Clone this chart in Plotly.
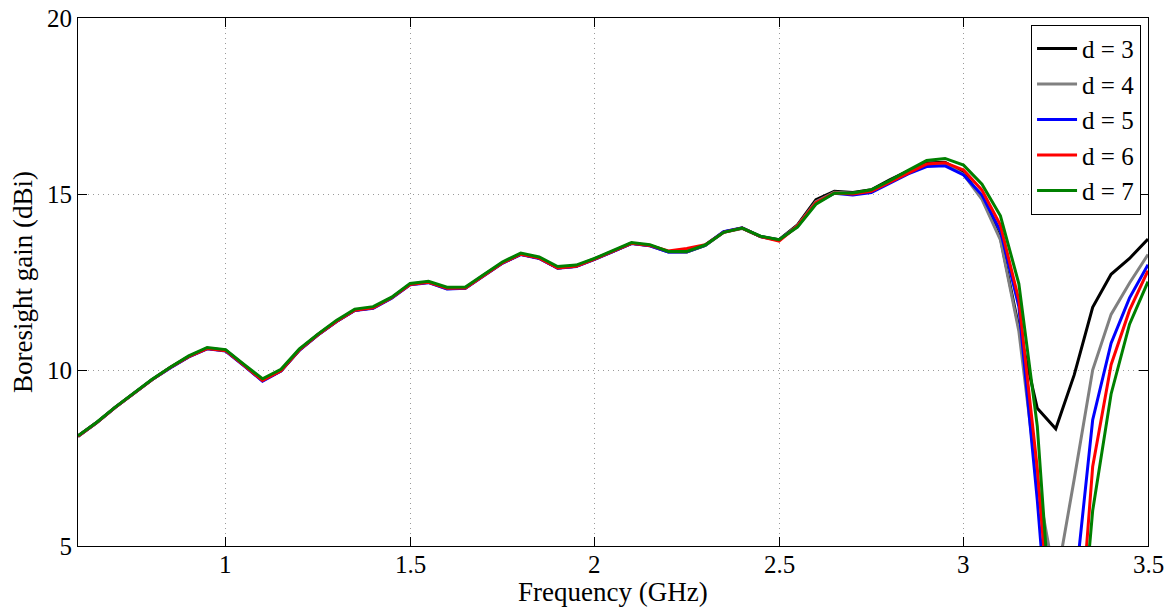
import plotly.graph_objects as go

# Frequency grid (GHz)
freq = [round(0.60 + 0.05 * i, 2) for i in range(59)]

# Boresight gain (dBi) for each spacing d
gain_d3 = [8.12, 8.50, 8.93, 9.33, 9.72, 10.07, 10.38, 10.62, 10.56, 10.14,
           9.70, 9.98, 10.57, 11.00, 11.38, 11.70, 11.77, 12.05, 12.44, 12.50,
           12.32, 12.33, 12.70, 13.04, 13.29, 13.18, 12.90, 12.95, 13.15, 13.37,
           13.60, 13.54, 13.36, 13.35, 13.54, 13.92, 14.03, 13.79, 13.70,
           14.12, 14.84, 15.08, 15.04, 15.12, 15.40, 15.66, 15.88, 15.90, 15.60,
           14.90, 13.75, 11.20, 8.91, 8.33, 9.86, 11.78, 12.72, 13.17, 13.72]

gain_d4 = [8.12, 8.50, 8.93, 9.33, 9.72, 10.07, 10.38, 10.61, 10.55, 10.13,
           9.70, 9.98, 10.57, 11.00, 11.38, 11.70, 11.77, 12.05, 12.43, 12.49,
           12.31, 12.33, 12.69, 13.04, 13.29, 13.18, 12.90, 12.95, 13.14, 13.37,
           13.60, 13.53, 13.35, 13.35, 13.54, 13.91, 14.02, 13.79, 13.69,
           14.10, 14.78, 15.05, 15.02, 15.08, 15.34, 15.62, 15.84, 15.86, 15.56,
           14.85, 13.70, 11.10, 6.80, 3.90, 6.90, 10.00, 11.58, 12.47, 13.28]

gain_d5 = [8.12, 8.50, 8.93, 9.33, 9.72, 10.06, 10.37, 10.60, 10.54, 10.12,
           9.68, 9.97, 10.56, 10.99, 11.37, 11.69, 11.75, 12.04, 12.42, 12.48,
           12.30, 12.32, 12.68, 13.03, 13.28, 13.17, 12.89, 12.94, 13.14, 13.36,
           13.59, 13.53, 13.35, 13.36, 13.55, 13.93, 14.04, 13.79, 13.69,
           14.08, 14.74, 15.02, 14.97, 15.04, 15.30, 15.57, 15.78, 15.80, 15.54,
           14.97, 13.95, 11.80, 6.30, -0.20, 3.60, 8.58, 10.76, 12.05, 12.99]

gain_d6 = [8.12, 8.50, 8.93, 9.33, 9.72, 10.07, 10.38, 10.61, 10.55, 10.13,
           9.70, 9.98, 10.57, 11.00, 11.38, 11.70, 11.77, 12.05, 12.43, 12.49,
           12.32, 12.33, 12.69, 13.04, 13.29, 13.18, 12.90, 12.95, 13.15, 13.37,
           13.60, 13.54, 13.38, 13.45, 13.56, 13.91, 14.03, 13.79, 13.66,
           14.09, 14.75, 15.03, 15.00, 15.08, 15.33, 15.60, 15.85, 15.89, 15.68,
           15.11, 14.12, 11.99, 7.20, 0.80, 0.40, 7.25, 10.15, 11.70, 12.82]

gain_d7 = [8.13, 8.51, 8.94, 9.34, 9.73, 10.08, 10.40, 10.64, 10.58, 10.16,
           9.75, 10.02, 10.60, 11.02, 11.41, 11.73, 11.80, 12.07, 12.46, 12.52,
           12.35, 12.36, 12.72, 13.07, 13.32, 13.21, 12.94, 12.98, 13.17, 13.39,
           13.62, 13.56, 13.37, 13.37, 13.55, 13.91, 14.03, 13.80, 13.70,
           14.06, 14.71, 15.02, 15.03, 15.12, 15.38, 15.67, 15.95, 16.01, 15.82,
           15.28, 14.38, 12.45, 8.40, 1.00, 0.00, 6.00, 9.32, 11.30, 12.51]

series_names = ["d = 3", "d = 4", "d = 5", "d = 6", "d = 7"]
series_values = [gain_d3, gain_d4, gain_d5, gain_d6, gain_d7]
series_colors = ["#000000", "#808080", "#0000ff", "#ff0000", "#008000"]

x_ticks = [1, 1.5, 2, 2.5, 3, 3.5]
x_tick_labels = ["1", "1.5", "2", "2.5", "3", "3.5"]
y_ticks = [5, 10, 15, 20]
y_tick_labels = ["5", "10", "15", "20"]

SERIF = "Liberation Serif, Times New Roman, serif"

fig = go.Figure()
for name, vals, color in zip(series_names, series_values, series_colors):
    fig.add_trace(go.Scatter(
        x=freq, y=vals, mode="lines", name=name,
        line=dict(color=color, width=3),
    ))

axis_common = dict(
    showline=True, linecolor="black", linewidth=1, mirror="ticks",
    ticks="inside", ticklen=9, tickcolor="black", tickwidth=1,
    showgrid=True, gridcolor="#9a9a9a", griddash="1px,4px", gridwidth=1,
    zeroline=False, automargin=False,
    tickfont=dict(family=SERIF, size=25, color="black"),
)

# x tick labels placed just under the axis, on the data scale of the x axis
x_label_annotations = [
    dict(text=lbl, x=val, xref="x", y=0, yref="paper",
         xanchor="center", yanchor="top", yshift=-3, showarrow=False,
         font=dict(family=SERIF, size=25, color="black"))
    for val, lbl in zip(x_ticks, x_tick_labels)
]

x_title = dict(
    text="Frequency (GHz)", xref="paper", yref="paper",
    x=0.5, y=-0.0871, xanchor="center", yanchor="middle",
    showarrow=False, font=dict(family=SERIF, size=27, color="black"),
)

fig.update_layout(
    width=1175, height=608,
    margin=dict(l=78, r=27, t=18, b=62),
    paper_bgcolor="white", plot_bgcolor="white",
    xaxis=dict(range=[0.6, 3.5], tickvals=x_ticks, showticklabels=False,
               **axis_common),
    yaxis=dict(range=[5, 20], tickvals=y_ticks, ticktext=y_tick_labels,
               title=dict(text="Boresight gain (dBi)", standoff=6,
                          font=dict(family=SERIF, size=27, color="black")),
               **axis_common),
    legend=dict(x=0.9935, y=0.987, xanchor="right", yanchor="top",
                bgcolor="white", bordercolor="black", borderwidth=1,
                font=dict(family=SERIF, size=25, color="black"),
                itemwidth=40, tracegroupgap=0),
    showlegend=True,
    annotations=x_label_annotations + [x_title],
)

fig.write_html("out.html")
